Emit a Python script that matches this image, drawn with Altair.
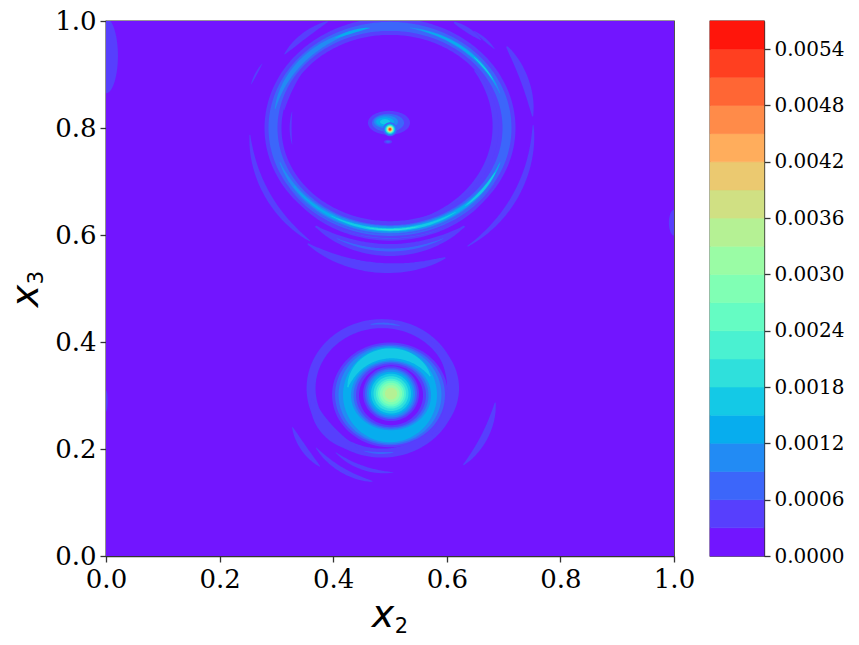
import numpy as np
import pandas as pd
import altair as alt

# contour level edges and colours
level_edges = [round(i * 0.0003, 4) for i in range(20)]
level_ids = list(range(19))
level_colors = ["#7215ff", "#573ffd", "#3c66fa", "#228bf4", "#07adee", "#14c9e6", "#2fe0dc",
                "#4af1d1", "#65fcc3", "#80ffb4", "#9afca5", "#b5f194", "#d0e083", "#ebc970",
                "#ffad5c", "#ff8b49", "#ff6634", "#ff3f20", "#ff150b"]
bar_ticks = [round(i * 0.0006, 4) for i in range(10)]
axis_ticks = [0.0, 0.2, 0.4, 0.6, 0.8, 1.0]

# filled regions: (centre x, centre y, radius x, radius y, level), painted in order
edge_discs = [(0.0, 0.935, 0.021, 0.07, 1), (1.0, 0.623, 0.009, 0.024, 1), (0.0, 0.29, 0.003, 0.02, 1)]
lower_outer = [(0.5, 0.3013, 0.102, 0.098, 1), (0.5, 0.3013, 0.0968, 0.0942, 2),
               (0.5, 0.3013, 0.0906, 0.0914, 3), (0.5, 0.3013, 0.0827, 0.0886, 4)]
lower_hole = [(0.5018, 0.3004, 0.0704, 0.0653, 3), (0.5018, 0.3004, 0.066, 0.0625, 2),
              (0.5018, 0.3004, 0.0616, 0.0597, 1), (0.5018, 0.3004, 0.0563, 0.056, 0)]
lower_core = [(0.5018, 0.3035, 0.0493, 0.0513, 1), (0.5018, 0.3035, 0.0458, 0.0476, 2),
              (0.5018, 0.3035, 0.0423, 0.0448, 3), (0.5018, 0.3035, 0.0387, 0.0411, 4),
              (0.5018, 0.3035, 0.0352, 0.0373, 5), (0.5018, 0.3035, 0.0308, 0.0327, 6),
              (0.5018, 0.3035, 0.0264, 0.028, 7), (0.5018, 0.3035, 0.0229, 0.0243, 8),
              (0.5018, 0.3035, 0.0194, 0.0205, 9), (0.5018, 0.3035, 0.015, 0.0159, 10),
              (0.5018, 0.3035, 0.0106, 0.0112, 11)]
upper_arch = [(0.4982, 0.8097, 0.037, 0.0224, 1), (0.4965, 0.8097, 0.0282, 0.0168, 2),
              (0.493, 0.8116, 0.0211, 0.012, 3), (0.4912, 0.8116, 0.0158, 0.0084, 4),
              (0.4912, 0.8116, 0.0088, 0.0047, 5), (0.4965, 0.7743, 0.007, 0.0037, 1),
              (0.4965, 0.7743, 0.0035, 0.0019, 2)]
upper_spot = [(0.5, 0.7976, 0.0123, 0.013, 2), (0.5, 0.7976, 0.0097, 0.0103, 4),
              (0.5, 0.7976, 0.0079, 0.0084, 6), (0.5, 0.7976, 0.0062, 0.0065, 8),
              (0.5, 0.7976, 0.0053, 0.0056, 10), (0.5, 0.7976, 0.0044, 0.0047, 12),
              (0.5, 0.7976, 0.0035, 0.0037, 14), (0.5, 0.7976, 0.0025, 0.0026, 16),
              (0.5, 0.7976, 0.0018, 0.0019, 17)]

# ring bands: (centre x, centre y, radius x, radius y, start deg, end deg, width, level)
upper_outer_arcs = [
    (0.5, 0.8, 0.257, 0.262, 236, 293, 10, 1),
    (0.5, 0.8, 0.247, 0.257, 183, 236, 6, 1),
    (0.5, 0.8, 0.221, 0.228, 234, 306, 12, 1),
    (0.5, 0.8, 0.221, 0.228, 245, 295, 3, 2),
    (0.5, 0.8, 0.22, 0.205, 225, 320, 6, 1),
    (0.5, 0.8, 0.22, 0.205, 245, 300, 2, 2),
    (0.5, 0.8, 0.252, 0.263, 303, 362, 6, 1),
    (0.5, 0.8, 0.252, 0.263, 5, 36, 8, 1),
    (0.5, 0.8, 0.24, 0.23, 40, 52, 3, 1),
    (0.5, 0.8, 0.235, 0.225, 47, 62, 5, 1),
    (0.5, 0.8, 0.235, 0.225, 118, 142, 6, 1),
    (0.5, 0.8, 0.26, 0.24, 150, 160, 2, 1),
]
upper_inner_arcs = [
    (0.5, 0.8, 0.195, 0.18, 60, 90, 4, 1),
    (0.5, 0.8, 0.187, 0.178, -75, 38, 8, 1),
    (0.5, 0.8, 0.19, 0.18, 145, 170, 3, 1),
    (0.5, 0.8, 0.175, 0.175, 170, 190, 2, 1),
    (0.5, 0.8, 0.195, 0.18, 190, 235, 4, 1),
]
upper_main_arcs = [
    (0.5, 0.8, 0.206, 0.19, 0, 360, 17, 1),
    (0.5, 0.8, 0.206, 0.19, 0, 360, 9, 2),
    (0.5, 0.8, 0.214, 0.2, 215, 330, 2, 2),
    (0.5, 0.8, 0.206, 0.19, 200, 340, 7, 3),
    (0.5, 0.8, 0.206, 0.19, 105, 170, 5, 3),
    (0.5, 0.8, 0.206, 0.19, 20, 80, 4, 3),
    (0.5, 0.8, 0.206, 0.19, 215, 340, 4, 4),
    (0.5, 0.8, 0.206, 0.19, 25, 75, 2.5, 4),
    (0.5, 0.8, 0.206, 0.19, 100, 118, 3, 4),
    (0.5, 0.8, 0.206, 0.19, 240, 305, 3, 5),
    (0.5, 0.8, 0.206, 0.19, 310, 335, 2.5, 5),
    (0.5, 0.8, 0.206, 0.19, 28, 45, 1.5, 5),
    (0.5, 0.8, 0.206, 0.19, 258, 285, 1.5, 6),
]
lower_swirl_arcs = [
    (0.486, 0.3134, 0.125, 0.121, 0, 360, 9, 1),
    (0.486, 0.3134, 0.125, 0.121, 190, 250, 13, 1),
    (0.486, 0.3134, 0.125, 0.121, -45, 45, 12, 1),
    (0.486, 0.3134, 0.125, 0.121, 75, 100, 2, 2),
    (0.486, 0.3134, 0.125, 0.121, 255, 280, 2, 2),
    (0.5, 0.3134, 0.185, 0.196, 202, 228, 6, 1),
    (0.5, 0.3134, 0.167, 0.177, 219, 260, 5, 1),
    (0.5, 0.3134, 0.148, 0.157, 230, 272, 4, 1),
    (0.5, 0.3134, 0.187, 0.198, 314, 352, 7, 1),
]
# painted over the discs of the lower blob
lower_crest_arcs = [(0.5018, 0.3004, 0.0775, 0.0784, 28, 168, 10, 5)]

frame_x = [0.0, 1.0]
frame_y = [0.0, 1.0]

discs = edge_discs + lower_outer + upper_arch + upper_spot
hole_discs = lower_hole + lower_core
rings = lower_swirl_arcs + upper_outer_arcs + upper_inner_arcs + upper_main_arcs


def ring_frame(items):
    rows = []
    for k, (cx, cy, rx, ry, a0, a1, w, lev) in enumerate(items):
        whole = a1 - a0 >= 360
        for i, deg in enumerate(np.arange(a0, a1 + 0.01, 2.0)):
            t = np.radians(deg)
            u = (deg - a0) / (a1 - a0)
            width = w if whole else w * max(0.05, np.sin(np.pi * u)) ** 0.6
            rows.append(dict(id=k, i=i, x=cx + rx * np.cos(t), y=cy + ry * np.sin(t),
                             w=width, level=lev))
    return pd.DataFrame(rows)


def disc_frame(items):
    rows = []
    for k, (cx, cy, rx, ry, lev) in enumerate(items):
        for i, deg in enumerate(range(180, -1, -4)):
            t = np.radians(deg)
            rows.append(dict(id=k, i=i, x=cx + rx * np.cos(t), lo=cy - ry * np.sin(t),
                             hi=cy + ry * np.sin(t), level=lev))
    return pd.DataFrame(rows)


frame_df = pd.DataFrame(dict(x=[frame_x[0]], x2=[frame_x[1]], y=[frame_y[0]], y2=[frame_y[1]], level=[0]))
bar_df = pd.DataFrame(dict(lo=level_edges[:-1], hi=level_edges[1:], level=level_ids,
                           x=[0.0] * 19, x2=[1.0] * 19))

color = alt.Color("level:O", scale=alt.Scale(domain=level_ids, range=level_colors), legend=None)
stroke = alt.Stroke("level:O", scale=alt.Scale(domain=level_ids, range=level_colors), legend=None)
axis_common = dict(labelFont="DejaVu Serif", labelFontSize=26, labelColor="#000000", grid=False,
                   tickColor="#333333", tickWidth=1.3, tickSize=6, domainColor="#333333", domainWidth=1.3,
                   labelPadding=4, values=axis_ticks, format=".1f", labelOverlap=False, labelFlush=False,
                   title=None)
sx = alt.Scale(domain=[0, 1], nice=False, zero=False)
sy = alt.Scale(domain=[0, 1], nice=False, zero=False)

base = alt.Chart(frame_df).mark_rect().encode(
    x=alt.X("x:Q", scale=sx, axis=alt.Axis(**axis_common)),
    x2="x2:Q",
    y=alt.Y("y:Q", scale=sy, axis=alt.Axis(**axis_common)),
    y2="y2:Q",
    color=color,
)


def area_layer(items):
    return alt.Chart(disc_frame(items)).mark_area(clip=True, opacity=1).encode(
        x=alt.X("x:Q", scale=sx), y=alt.Y("lo:Q", scale=sy), y2="hi:Q",
        color=color, detail="id:N",
    )


def trail_layer(items):
    return alt.Chart(ring_frame(items)).mark_trail(clip=True, opacity=1).encode(
        x=alt.X("x:Q", scale=sx), y=alt.Y("y:Q", scale=sy),
        size=alt.Size("w:Q", scale=None, legend=None),
        color=color, detail="id:N", order="i:Q",
    )


def label(text, size, style, px, py, angle=0):
    return alt.Chart(frame_df).mark_text(
        text=text, font="DejaVu Sans", fontSize=size, fontStyle=style, color="#000000",
        align="center", baseline="alphabetic", angle=angle, clip=False,
    ).encode(x=alt.value(px), y=alt.value(py))


labels = [
    label("x", 38, "italic", 277, 606),
    label("2", 21, "normal", 295.5, 612),
    label("x", 38, "italic", -68, 275, 270),
    label("3", 21, "normal", -63, 256.5, 270),
]

main = alt.layer(base, area_layer(discs), trail_layer(rings), area_layer(hole_discs),
                 trail_layer(lower_crest_arcs), *labels).properties(width=568, height=535)

bar = alt.Chart(bar_df).mark_rect(strokeWidth=0.6).encode(
    x=alt.X("x:Q", scale=alt.Scale(domain=[0, 1], nice=False), axis=None),
    x2="x2:Q",
    y=alt.Y("lo:Q", scale=alt.Scale(domain=[0, 0.0057], nice=False, zero=False),
            axis=alt.Axis(orient="right", title=None, values=bar_ticks, format=".4f",
                          labelFont="DejaVu Serif", labelFontSize=20, labelColor="#000000",
                          tickColor="#333333", tickWidth=1.3, tickSize=6, labelPadding=4,
                          domainColor="#333333", domainWidth=1.3, grid=False, labelOverlap=False)),
    y2="hi:Q",
    color=color,
    stroke=stroke,
).properties(width=54, height=535)

chart = alt.hconcat(main, bar, spacing=36, bounds="flush").resolve_scale(
    color="independent", stroke="independent"
).configure_view(
    stroke="#333333", strokeWidth=1.3
).properties(background="#ffffff", padding={"left": -1, "top": -1, "right": 2, "bottom": 2})

chart.save("out.html", embed_options={"renderer": "svg", "actions": False})
